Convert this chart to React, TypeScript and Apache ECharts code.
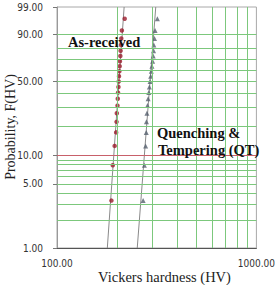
import React, { useEffect, useRef } from "react";
import * as echarts from "echarts";

// Probability ranks (%)
const probability = [3.3, 7.9, 12.6, 17.3, 22.0, 26.6, 31.3, 36.0, 40.7, 45.3, 50.0, 54.7, 59.3, 64.0, 68.7, 73.4, 78.0, 82.7, 87.4, 92.1, 96.7];
// Vickers hardness values (HV)
const asReceivedHV = [187.5, 190.4, 194.6, 198.0, 198.9, 199.5, 201.1, 201.7, 202.4, 203.3, 203.9, 204.6, 205.5, 206.2, 206.9, 207.8, 208.4, 209.2, 210.1, 211.5, 218.5];
const qtHV = [270.4, 274.2, 278.2, 280.3, 280.8, 282.5, 284.3, 286.5, 288.7, 290.6, 292.8, 295.1, 297.1, 299.3, 301.6, 303.6, 305.0, 305.9, 308.3, 310.4, 318.7];
// Fitted lines: [HV, F%]
const fitAsReceived = [[178.8, 1], [217.1, 99]];
const fitQT = [[252.6, 1], [312.8, 99]];
// Axis ticks / gridlines
const yTickLabels = [1, 5, 10, 50, 90, 99];
const yGridGreen = [2, 3, 4, 5, 6, 7, 8, 9, 20, 30, 40, 50, 60, 70, 80, 90];
const yGridRed = [10];
const xGrid = [200, 300, 400, 500, 600, 700, 800, 900];

const w = (f: number) => Math.log(-Math.log(1 - f / 100));
const invW = (v: number) => 100 * (1 - Math.exp(-Math.exp(v)));

const narrow = "'Liberation Sans Narrow', 'Arial Narrow', 'DejaVu Sans Condensed', sans-serif";
const serif = "'Liberation Serif', 'Times New Roman', serif";

export default function App() {
  const ref = useRef<HTMLDivElement>(null);
  useEffect(() => {
    if (!ref.current) return;
    const chart = echarts.init(ref.current, null, { renderer: "svg" });
    const green = "#7cc87c";
    chart.setOption({
      animation: false,
      backgroundColor: "#ffffff",
      grid: { left: 57, right: 11, top: 7, bottom: 37, show: true, borderColor: "#a8a8a8", borderWidth: 1 },
      xAxis: {
        type: "log",
        logBase: 10,
        min: 100,
        max: 1000,
        axisLine: { show: true, onZero: false, lineStyle: { color: "#555", width: 1 } },
        axisTick: { show: false },
        splitLine: { show: false },
        axisLabel: {
          margin: 10,
          fontFamily: narrow,
          fontSize: 10,
          color: "#333",
          formatter: (v: number) => v.toFixed(2),
        },
      },
      yAxis: {
        type: "value",
        min: w(1),
        max: w(99),
        axisLine: { show: true, onZero: false, lineStyle: { color: "#999", width: 1 } },
        splitLine: { show: false },
        axisTick: { show: true, length: 4, customValues: yTickLabels.map(w), lineStyle: { color: "#777" } },
        axisLabel: {
          margin: 14,
          fontFamily: narrow,
          fontSize: 10,
          color: "#333",
          customValues: yTickLabels.map(w),
          formatter: (v: number) => invW(v).toFixed(2),
        },
      },
      series: [
        {
          type: "scatter",
          name: "grid",
          data: fitAsReceived.map(([x, f]) => [x, w(f)]),
          symbolSize: 0,
          itemStyle: { opacity: 0 },
          silent: true,
          z: 1,
          markLine: {
            silent: true,
            symbol: "none",
            label: { show: false },
            animation: false,
            data: [
              ...yGridGreen.map((f) => ({ yAxis: w(f), lineStyle: { color: green, width: 1, type: "solid" } })),
              ...xGrid.map((x) => ({ xAxis: x, lineStyle: { color: green, width: 1, type: "solid" } })),
              ...yGridRed.map((f) => ({ yAxis: w(f), lineStyle: { color: "#c8606a", width: 1, type: "solid" } })),
            ],
          },
        },
        {
          type: "line",
          name: "fitAR",
          data: fitAsReceived.map(([x, f]) => [x, w(f)]),
          showSymbol: false,
          lineStyle: { color: "#8a8a8a", width: 1 },
          z: 3,
        },
        {
          type: "line",
          name: "fitQT",
          data: fitQT.map(([x, f]) => [x, w(f)]),
          showSymbol: false,
          lineStyle: { color: "#8a8a8a", width: 1 },
          z: 3,
        },
        {
          type: "scatter",
          name: "As-received",
          data: asReceivedHV.map((x, i) => [x, w(probability[i])]),
          symbol: "circle",
          symbolSize: 4.5,
          itemStyle: { color: "#9b1c2c" },
          z: 4,
        },
        {
          type: "scatter",
          name: "QT",
          data: qtHV.map((x, i) => [x, w(probability[i])]),
          symbol: "triangle",
          symbolSize: 5,
          itemStyle: { color: "#56606e" },
          z: 4,
        },
      ],
      graphic: [
        {
          type: "text",
          x: 10,
          y: 127,
          rotation: Math.PI / 2,
          style: { text: "Probability, F(HV)", font: `14px ${serif}`, fill: "#222", textAlign: "center", textVerticalAlign: "middle" },
        },
        {
          type: "text",
          x: 164.5,
          y: 277,
          style: { text: "Vickers hardness (HV)", font: `14.5px ${serif}`, fill: "#222", textAlign: "center", textVerticalAlign: "middle" },
        },
        {
          type: "text",
          x: 68,
          y: 42,
          z: 10,
          style: { text: "As-received", font: `bold 14.5px ${serif}`, fill: "#111", textAlign: "left", textVerticalAlign: "middle" },
        },
        {
          type: "text",
          x: 157,
          y: 133,
          z: 10,
          style: { text: "Quenching &", font: `bold 14.5px ${serif}`, fill: "#111", textAlign: "left", textVerticalAlign: "middle" },
        },
        {
          type: "text",
          x: 158,
          y: 150,
          z: 10,
          style: { text: "Tempering (QT)", font: `bold 14.5px ${serif}`, fill: "#111", textAlign: "left", textVerticalAlign: "middle" },
        },
      ],
    });
    return () => chart.dispose();
  }, []);
  return <div ref={ref} style={{ position: "fixed", left: 0, top: 0, width: 278, height: 285 }} />;
}
